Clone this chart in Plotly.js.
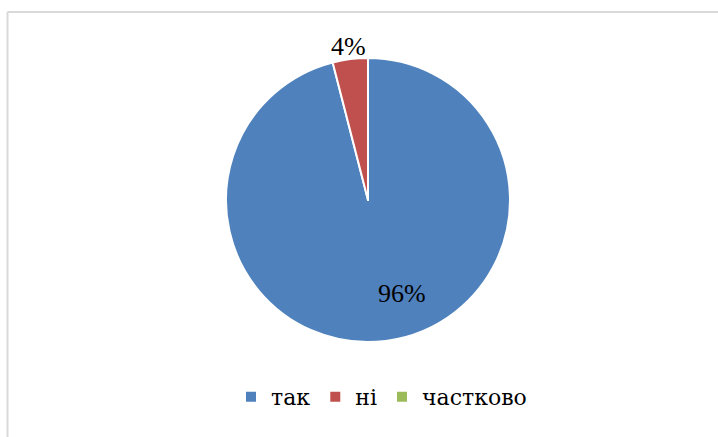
<!DOCTYPE html>
<html>
<head>
<meta charset="utf-8">
<script src="https://cdn.plot.ly/plotly-3.0.1.min.js"></script>
<style>html,body{margin:0;padding:0;background:#fff;}#chart{width:718px;height:437px;}</style>
</head>
<body>
<div id="chart"></div>
<script>
const categories = ['так', 'ні', 'частково'];
const values = [96, 4, 0];
const colors = ['#4F81BD', '#C0504D', '#9BBB59'];

const W = 718, H = 437;
const cx = 368, cy = 200, R = 142;
const NUM_FONT = 'Liberation Serif';
const CYR_FONT = 'DejaVu Serif';

const total = values.reduce((a, b) => a + b, 0);
const pct = values.map(v => Math.round(v / total * 100) + '%');

// label placement (pixels) for the non-zero slices
const labelPos = [[402, 293], [348, 46], null];

const trace = {
  type: 'pie',
  labels: categories,
  values: values,
  sort: false,
  direction: 'clockwise',
  rotation: 0,
  marker: {colors: colors, line: {color: '#FFFFFF', width: 2}},
  textinfo: 'none',
  automargin: false,
  hoverinfo: 'none',
  domain: {
    x: [(cx - R) / W, (cx + R) / W],
    y: [(H - cy - R) / H, (H - cy + R) / H]
  }
};

const annotations = [];
values.forEach((v, i) => {
  if (!labelPos[i]) return;
  annotations.push({
    xref: 'paper', yref: 'paper',
    x: labelPos[i][0] / W, y: 1 - labelPos[i][1] / H,
    xanchor: 'center', yanchor: 'middle',
    text: pct[i], showarrow: false,
    font: {family: NUM_FONT, size: 26, color: '#000000'}
  });
});

const layout = {
  width: W, height: H,
  margin: {l: 0, r: 0, t: 0, b: 0},
  paper_bgcolor: '#FFFFFF',
  showlegend: true,
  legend: {
    orientation: 'h',
    x: (258 - 27) / W, xanchor: 'left',
    y: (H - 397) / H, yanchor: 'middle',
    font: {family: CYR_FONT, size: 22, color: '#000000'},
    traceorder: 'normal',
    itemclick: false
  },
  annotations: annotations,
  shapes: [
    {type: 'line', xref: 'paper', yref: 'paper', x0: 7.5 / W, x1: 1, y0: 1 - 12 / H, y1: 1 - 12 / H, line: {color: '#D9D9D9', width: 2}},
    {type: 'line', xref: 'paper', yref: 'paper', x0: 7.5 / W, x1: 7.5 / W, y0: 0, y1: 1 - 12 / H, line: {color: '#D9D9D9', width: 2}}
  ]
};

Plotly.newPlot('chart', [trace], layout, {displayModeBar: false, staticPlot: true});
</script>
</body>
</html>
